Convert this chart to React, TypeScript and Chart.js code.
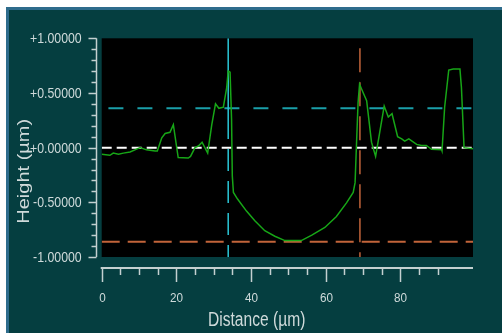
import React, { useEffect, useRef } from 'react';
import { Chart, registerables } from 'chart.js';

Chart.register(...registerables);

// ---- data ----
const distances = [
  0, 2.2, 3.1, 4.5, 5.8, 7.6, 8.9, 10.3, 12.0, 14.3, 14.9, 16.1, 17.0, 18.3, 19.2,
  20.5, 23.2, 23.8, 25.0, 25.9, 26.9, 28.4, 29.5, 30.5, 31.4, 32.6, 33.5, 33.9,
  34.4, 34.8, 35.0, 35.3, 36.4, 38.8, 41.1, 43.7, 46.4, 49.1, 53.5, 56.3, 59.8,
  62.9, 65.6, 67.4, 67.9, 68.3, 68.7, 69.1, 70.1, 71.0, 72.3, 73.4, 74.5, 75.7,
  76.8, 77.8, 79.3, 80.4, 81.2, 82.3, 84.4, 85.7, 87.0, 88.4, 91.1, 91.2, 91.9,
  93.0, 94.2, 96.0, 96.4, 97.1, 99.5,
];
const heights = [
  -0.06, -0.07, -0.05, -0.06, -0.05, -0.04, -0.02, 0.0, -0.02, -0.03, -0.03, 0.09, 0.13, 0.14, 0.21,
  -0.09, -0.095, -0.08, 0.0, 0.015, 0.05, -0.05, 0.21, 0.40, 0.36, 0.37, 0.55, 0.70,
  0.69, 0.26, -0.26, -0.41, -0.47, -0.58, -0.67, -0.76, -0.81, -0.85, -0.85, -0.80, -0.73,
  -0.63, -0.505, -0.41, -0.32, 0.05, 0.41, 0.58, 0.50, 0.43, 0.05, -0.08, 0.14, 0.38,
  0.28, 0.31, 0.10, 0.08, 0.06, 0.08, 0.03, 0.02, 0.02, -0.015, -0.02, -0.03, 0.37,
  0.71, 0.72, 0.72, 0.55, 0.0, -0.01,
];

const xMin = 0;
const xMax = 99.5;
const yMin = -1;
const yMax = 1;
const xMinorStep = 5;
const xMajorStep = 20;
const yMinorStep = 0.1;
const yMajorStep = 0.5;

const cursorA = 33.9;        // cyan cursor distance
const cursorASolidTo = 0.28; // cyan cursor solid part ends
const cursorALevel = 0.36;   // cyan level
const cursorALevelStart = 1.8;
const cursorB = 69.2;        // orange cursor distance
const cursorBTop = 0.91;
const cursorBLevel = -0.86;  // orange level
const zeroLevel = 0;

const xTitle = 'Distance (µm)';
const yTitle = 'Height (µm)';

// ---- styles ----
const TEXT = '#cfdada';
const AXIS = '#c4d0d0';
const GREEN = '#17a617';
const CYAN_H = '#1a9fa9';
const CYAN_V = '#2ac6d6';
const ORANGE = '#c2643a';
const SANS = "'Liberation Sans', Arial, sans-serif";

const isMult = (v: number, s: number) => Math.abs(v / s - Math.round(v / s)) < 1e-6;

const xLabel = (v: number) => (isMult(v, xMajorStep) ? String(Math.round(v)) : '');
const yLabel = (v: number) =>
  isMult(v, yMajorStep) ? (v < -1e-9 ? '-' : '+') + Math.abs(v).toFixed(5) : '';

const squeezedText = (ctx: any, text: string, x: number, y: number, sx: number, align: string, rotate = 0) => {
  ctx.save();
  ctx.translate(x, y);
  ctx.scale(sx, 1);
  if (rotate) ctx.rotate(rotate);
  ctx.textAlign = align;
  ctx.textBaseline = 'middle';
  ctx.fillText(text, 0, 0);
  ctx.restore();
};

const framePlugin = {
  id: 'frame',
  beforeDraw(chart: any) {
    const { ctx, chartArea: a } = chart;
    ctx.save();
    ctx.fillStyle = '#000000';
    ctx.fillRect(a.left, a.top, a.right - a.left, a.bottom - a.top);
    ctx.restore();
  },
  afterDraw(chart: any) {
    const { ctx, chartArea: a } = chart;
    const xs = chart.scales.x;
    const ys = chart.scales.y;
    ctx.save();
    ctx.strokeStyle = AXIS;
    ctx.fillStyle = TEXT;
    ctx.lineCap = 'butt';

    // y axis line + ticks + labels
    const yLineX = Math.round(a.left - 5.5) + 0.5;
    ctx.lineWidth = 1.5;
    ctx.beginPath();
    ctx.moveTo(yLineX, ys.getPixelForValue(yMax));
    ctx.lineTo(yLineX, ys.getPixelForValue(yMin));
    ctx.stroke();
    ctx.font = `14px ${SANS}`;
    ys.ticks.forEach((t: any) => {
      if (!isMult(t.value, yMinorStep)) return;
      const py = Math.round(ys.getPixelForValue(t.value)) + 0.5;
      const major = isMult(t.value, yMajorStep);
      const len = major ? 8 : 5;
      ctx.beginPath();
      ctx.moveTo(yLineX - len, py);
      ctx.lineTo(yLineX, py);
      ctx.stroke();
      const lab = yLabel(t.value);
      if (lab) squeezedText(ctx, lab, a.left - 20, py + 0.5, 0.88, 'right');
    });

    // x axis line + ticks + labels
    const xLineY = Math.round(a.bottom + 11);
    ctx.lineWidth = 2;
    ctx.beginPath();
    ctx.moveTo(xs.getPixelForValue(xMin) - 1, xLineY);
    ctx.lineTo(xs.getPixelForValue(xMax), xLineY);
    ctx.stroke();
    ctx.lineWidth = 1.5;
    ctx.font = `13px ${SANS}`;
    xs.ticks.forEach((t: any) => {
      if (!isMult(t.value, xMinorStep)) return;
      const px = Math.round(xs.getPixelForValue(t.value)) + 0.5;
      const len = isMult(t.value, xMajorStep) ? 14 : 7;
      ctx.beginPath();
      ctx.moveTo(px, xLineY);
      ctx.lineTo(px, xLineY + len);
      ctx.stroke();
      const lab = xLabel(t.value);
      if (lab) squeezedText(ctx, lab, px, a.bottom + 41, 0.9, 'center');
    });

    // axis titles
    ctx.font = `20px ${SANS}`;
    squeezedText(ctx, xTitle, a.left + 155, a.bottom + 63, 0.78, 'center');
    squeezedText(ctx, yTitle, a.left - 77, a.top + 133, 0.78, 'center', -Math.PI / 2);

    ctx.restore();
  },
};

const line = (pts: { x: number; y: number }[], color: string, width: number, dash: number[] = []) => ({
  data: pts,
  borderColor: color,
  borderWidth: width,
  borderDash: dash,
  pointRadius: 0,
  fill: false,
  tension: 0,
});

export default function App() {
  const ref = useRef<HTMLCanvasElement | null>(null);

  useEffect(() => {
    if (!ref.current) return;
    const chart = new Chart(ref.current, {
      type: 'line',
      data: {
        datasets: [
          line(distances.map((x, i) => ({ x, y: heights[i] })), GREEN, 1.5),
          line([{ x: cursorA, y: yMax }, { x: cursorA, y: cursorASolidTo }], CYAN_V, 1.5),
          line([{ x: cursorA, y: cursorASolidTo }, { x: cursorA, y: yMin }], CYAN_V, 1.5, [22, 10]),
          line([{ x: cursorB, y: cursorBTop }, { x: cursorB, y: yMin }], ORANGE, 1.5, [24, 10]),
          line([{ x: xMin, y: zeroLevel }, { x: xMax, y: zeroLevel }], '#ffffff', 2, [10, 5]),
          line([{ x: cursorALevelStart, y: cursorALevel }, { x: xMax, y: cursorALevel }], CYAN_H, 2, [15, 14]),
          line([{ x: xMin, y: cursorBLevel }, { x: xMax, y: cursorBLevel }], ORANGE, 2, [18, 8]),
        ] as any,
      },
      options: {
        animation: false,
        responsive: false,
        maintainAspectRatio: false,
        events: [],
        layout: { padding: { left: 0, right: 29, top: 38.3, bottom: 0 } },
        plugins: { legend: { display: false }, tooltip: { enabled: false } },
        scales: {
          x: {
            type: 'linear',
            min: xMin,
            max: xMax,
            afterFit: (s: any) => { s.height = 76; },
            grid: { display: false, drawTicks: false },
            border: { display: false },
            ticks: { display: false, stepSize: xMinorStep, autoSkip: false, maxRotation: 0 },
          },
          y: {
            type: 'linear',
            min: yMin,
            max: yMax,
            afterFit: (s: any) => { s.width = 101.7; },
            grid: { display: false, drawTicks: false },
            border: { display: false },
            ticks: { display: false, stepSize: yMinorStep, autoSkip: false },
          },
        },
      } as any,
      plugins: [framePlugin],
    });
    return () => chart.destroy();
  }, []);

  return (
    <div style={{ position: 'absolute', left: 0, top: 0, width: 502, height: 333, background: '#ffffff', overflow: 'hidden' }}>
      <div
        style={{
          position: 'absolute',
          left: 6,
          top: 7,
          right: 0,
          bottom: 0,
          background: '#053e40',
          borderTop: '3px solid #2e6c8c',
          borderLeft: '3px solid #2e6c8c',
        }}
      />
      <canvas ref={ref} width={502} height={333} style={{ position: 'absolute', left: 0, top: 0, width: 502, height: 333 }} />
    </div>
  );
}
